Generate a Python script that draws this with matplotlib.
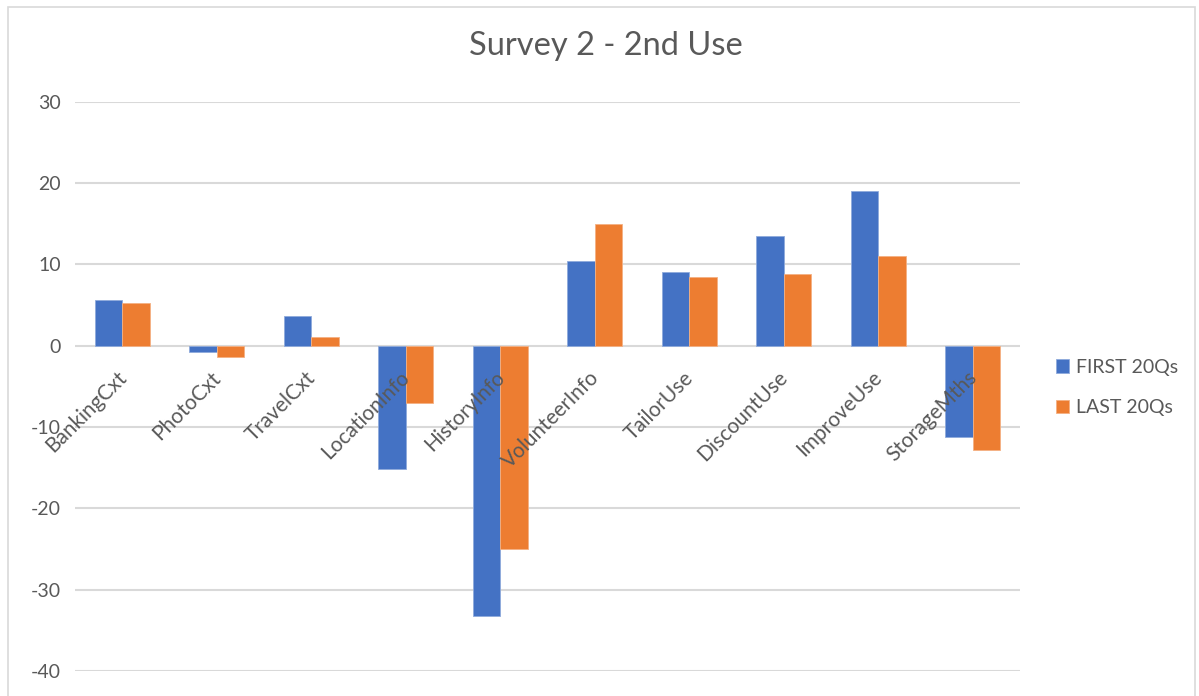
import matplotlib
matplotlib.use("Agg")
import matplotlib.pyplot as plt
import numpy as np
from matplotlib.patches import Rectangle
from matplotlib.transforms import offset_copy

categories = ["BankingCxt", "PhotoCxt", "TravelCxt", "LocationInfo", "HistoryInfo",
              "VolunteerInfo", "TailorUse", "DiscountUse", "ImproveUse", "StorageMths"]
first_20qs = [5.6, -0.8, 3.7, -15.2, -33.2, 10.4, 9.1, 13.5, 19.0, -11.2]
last_20qs = [5.3, -1.4, 1.1, -7.1, -25.0, 14.9, 8.4, 8.8, 11.0, -12.8]
series_names = ["FIRST 20Qs", "LAST 20Qs"]
y_ticks = [-40, -30, -20, -10, 0, 10, 20, 30]

BLUE = "#4472C4"
ORANGE = "#ED7D31"
TEXT = "#595959"
GRID = "#D9D9D9"

plt.rcParams["font.family"] = ["Lato", "DejaVu Sans"]

fig = plt.figure(figsize=(11.99, 6.96), dpi=100)
ax = fig.add_axes([0.0626, 0.036, 0.788, 0.818])

x = np.arange(len(categories))
width = 0.29
ax.bar(x - width / 2, first_20qs, width, color=BLUE, edgecolor="#8FAADC",
       linewidth=0.6, label=series_names[0], zorder=3)
ax.bar(x + width / 2, last_20qs, width, color=ORANGE, edgecolor="#F4B183",
       linewidth=0.6, label=series_names[1], zorder=3)

ax.set_xlim(-0.5, len(categories) - 0.5)
ax.set_ylim(-40, 30)
ax.set_yticks(y_ticks)
ax.set_yticklabels([str(v) for v in y_ticks], fontsize=14, color=TEXT)
ax.tick_params(axis="y", length=0, pad=10)
ax.set_xticks([])
ax.yaxis.grid(True, color=GRID, linewidth=1.5, zorder=0)
ax.set_axisbelow(True)
for s in ax.spines.values():
    s.set_visible(False)

# category labels sit next to the zero line, rotated 45 degrees
for xi, name in zip(x, categories):
    tr = offset_copy(ax.transData, fig=fig, x=8, y=-22, units="dots")
    ax.text(xi, 0, name, transform=tr, rotation=45, ha="right", va="top",
            fontsize=15, color=TEXT, zorder=4)

fig.text(0.505, 0.934, "Survey 2 - 2nd Use", ha="center", va="center",
         fontsize=23.5, color=TEXT)

leg = fig.legend(loc="center left", bbox_to_anchor=(0.866, 0.443), frameon=False,
                 fontsize=14, handlelength=0.7, handleheight=0.7, handletextpad=0.35,
                 labelspacing=1.2, labelcolor=TEXT)

fig.patches.append(Rectangle((0.007, -0.01), 0.99, 1.0, transform=fig.transFigure,
                             fill=False, edgecolor=GRID, linewidth=1.2))

fig.savefig("out.png", dpi=100)
